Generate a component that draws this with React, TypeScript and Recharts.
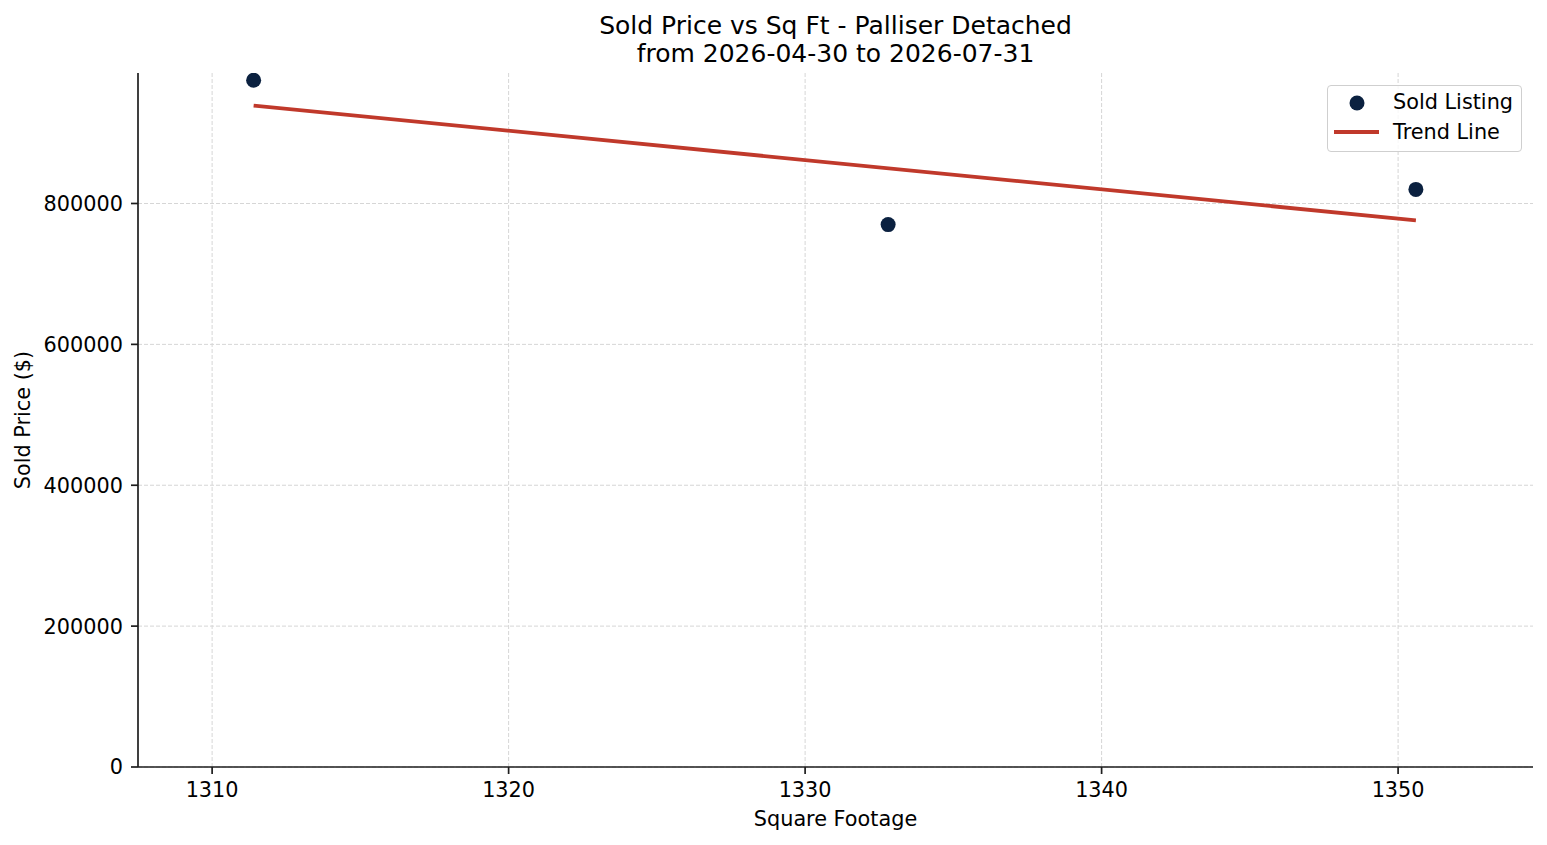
import React from "react";
import { ScatterChart, Scatter, XAxis, YAxis, ReferenceLine } from "recharts";

const sqft = [1311.4, 1332.8, 1350.6];
const soldPrice = [975000, 770000, 820000];
const trendSqft = [1311.4, 1350.6];
const trendPrice = [939000, 776000];
const xTicks = [1310, 1320, 1330, 1340, 1350];
const yTicks = [0, 200000, 400000, 600000, 800000];
const titleLines = ["Sold Price vs Sq Ft - Palliser Detached", "from 2026-04-30 to 2026-07-31"];
const seriesNames = ["Sold Listing", "Trend Line"];

const pointData = sqft.map((x, i) => ({ x, y: soldPrice[i] }));
const trendData = trendSqft.map((x, i) => ({ x, y: trendPrice[i] }));

const FONT = "'DejaVu Sans', sans-serif";
const POINT = "#0b2140";
const RED = "#c0392b";
const AXIS = "#1e1e1e";
const GRID = "#d6d6d6";

const W = 1547;
const H = 845;

const Dot = (props: any) => <circle cx={props.cx} cy={props.cy} r={7.5} fill={POINT} />;
const NoDot = () => <g />;

const LegendBox = () => (
  <div
    style={{
      position: "absolute",
      left: 1327,
      top: 85,
      width: 195,
      height: 67,
      border: "1.3px solid #cfcfcf",
      borderRadius: 4,
      background: "rgba(255,255,255,0.8)",
      fontFamily: FONT,
      fontSize: 20.8,
      color: "#000",
      boxSizing: "border-box",
    }}
  >
    <svg width={60} height={65} style={{ position: "absolute", left: 0, top: 0 }}>
      <circle cx={29} cy={17} r={7.5} fill={POINT} />
      <line x1={6} x2={51} y1={46} y2={46} stroke={RED} strokeWidth={3.8} />
    </svg>
    <div style={{ position: "absolute", left: 65, top: 2, lineHeight: "28px", whiteSpace: "nowrap" }}>{seriesNames[0]}</div>
    <div style={{ position: "absolute", left: 65, top: 32, lineHeight: "28px", whiteSpace: "nowrap" }}>{seriesNames[1]}</div>
  </div>
);

const YLabel = (props: any) => {
  const vb = props.viewBox || { x: 0, y: 73, width: 138, height: 694 };
  const cx = vb.x + 30;
  const cy = vb.y + vb.height / 2;
  return (
    <text x={cx} y={cy} transform={`rotate(-90 ${cx} ${cy})`} textAnchor="middle" fontFamily={FONT} fontSize={20.8} fill="#000">
      Sold Price ($)
    </text>
  );
};

const XLabel = (props: any) => {
  const vb = props.viewBox || { x: 138, y: 767, width: 1395, height: 78 };
  const cx = vb.x + vb.width / 2;
  const cy = vb.y + 59;
  return (
    <text x={cx} y={cy} textAnchor="middle" fontFamily={FONT} fontSize={20.8} fill="#000">
      Square Footage
    </text>
  );
};

export default function App() {
  return (
    <div style={{ position: "absolute", left: 0, top: 0, width: W, height: H, background: "#fff" }}>
      <ScatterChart width={W} height={H} margin={{ top: 73, right: 14, bottom: 0, left: 0 }}>
        {xTicks.map((t) => (
          <ReferenceLine key={`gx${t}`} x={t} stroke={GRID} strokeDasharray="4 2" strokeWidth={1} />
        ))}
        {yTicks.map((t) => (
          <ReferenceLine key={`gy${t}`} y={t} stroke={GRID} strokeDasharray="4 2" strokeWidth={1} />
        ))}
        <XAxis
          type="number"
          dataKey="x"
          domain={[1307.5, 1354.55]}
          ticks={xTicks}
          allowDataOverflow
          height={78}
          tickSize={7}
          tickMargin={8}
          stroke={AXIS}
          strokeWidth={1.7}
          tick={{ fill: "#000", fontSize: 20.8, fontFamily: FONT }}
          label={<XLabel />}
        />
        <YAxis
          type="number"
          dataKey="y"
          domain={[0, 985250]}
          ticks={yTicks}
          allowDataOverflow
          width={138}
          tickSize={7}
          tickMargin={8}
          stroke={AXIS}
          strokeWidth={1.7}
          tick={{ fill: "#000", fontSize: 20.8, fontFamily: FONT }}
          label={<YLabel />}
        />
        <Scatter
          name={seriesNames[1]}
          data={trendData}
          line={{ stroke: RED, strokeWidth: 3.8 }}
          shape={NoDot}
          isAnimationActive={false}
        />
        <Scatter name={seriesNames[0]} data={pointData} shape={Dot} isAnimationActive={false} />
        <text x={835.5} y={34} textAnchor="middle" fontFamily={FONT} fontSize={25} fill="#000">
          {titleLines[0]}
        </text>
        <text x={835.5} y={62} textAnchor="middle" fontFamily={FONT} fontSize={25} fill="#000">
          {titleLines[1]}
        </text>
      </ScatterChart>
      <LegendBox />
    </div>
  );
}
